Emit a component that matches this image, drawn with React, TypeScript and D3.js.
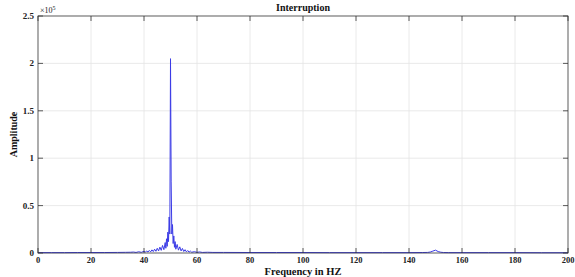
import React from 'react';
import * as d3 from 'd3';

// spectrum (amplitude in units of 1e5)
const freqs = [
  0, 5, 10, 15, 20, 25, 30, 33, 35, 36, 37, 38, 39, 40, 40.5, 41, 41.5, 42, 42.5, 43, 43.5,
  44, 44.5, 45, 45.5, 46, 46.5, 47, 47.5, 48, 48.25, 48.5, 48.75, 49, 49.25, 49.5, 49.75,
  50, 50.25, 50.5, 50.75, 51, 51.25, 51.5, 51.75, 52, 52.5, 53, 53.5, 54, 54.5, 55, 55.5,
  56, 56.5, 57, 57.5, 58, 59, 60, 61, 62, 64, 66, 70, 80, 90, 100, 110, 120, 130, 140,
  145, 147, 148, 149, 150, 151, 152, 153, 155, 160, 170, 180, 190, 200,
];
const amps = [
  0.004, 0.004, 0.004, 0.005, 0.005, 0.005, 0.006, 0.007, 0.008, 0.01, 0.006, 0.013, 0.007,
  0.018, 0.008, 0.022, 0.01, 0.027, 0.012, 0.033, 0.015, 0.04, 0.018, 0.05, 0.022, 0.062,
  0.028, 0.08, 0.035, 0.11, 0.05, 0.15, 0.07, 0.22, 0.12, 0.38, 0.2, 2.05, 0.75, 0.2, 0.3,
  0.1, 0.18, 0.06, 0.12, 0.04, 0.09, 0.03, 0.065, 0.022, 0.048, 0.016, 0.035, 0.012, 0.026,
  0.009, 0.02, 0.008, 0.014, 0.007, 0.011, 0.006, 0.008, 0.006, 0.006, 0.005, 0.005, 0.005,
  0.004, 0.004, 0.004, 0.004, 0.005, 0.006, 0.01, 0.02, 0.03, 0.015, 0.008, 0.005, 0.004,
  0.004, 0.004, 0.004, 0.003, 0.003,
];
const xTicks = [0, 20, 40, 60, 80, 100, 120, 140, 160, 180, 200];
const yTicks = [0, 0.5, 1, 1.5, 2, 2.5];
const yTickLabels = ['0', '0.5', '1', '1.5', '2', '2.5'];

const W = 575;
const H = 277;
const m = { left: 38, right: 7, top: 16, bottom: 24 };
const font = '"Liberation Serif", "Times New Roman", serif';

export default function App() {
  const x = d3.scaleLinear().domain([0, 200]).range([m.left, W - m.right]);
  const y = d3.scaleLinear().domain([0, 2.5]).range([H - m.bottom, m.top]);
  const pts: [number, number][] = freqs.map((f, i) => [f, amps[i]]);
  const line = d3.line<[number, number]>().x(d => x(d[0])).y(d => y(d[1]));
  const x0 = x(0), x1 = x(200), y0 = y(0), y1 = y(2.5);
  const tk = 5;

  return (
    <svg width={W} height={H} style={{ position: 'absolute', left: 0, top: 0, background: '#fff' }}>
      {/* grid */}
      {xTicks.slice(1, -1).map(t => (
        <line key={'gx' + t} x1={x(t)} x2={x(t)} y1={y0} y2={y1} stroke="#e4e4e4" strokeWidth={0.8} />
      ))}
      {yTicks.slice(1, -1).map(t => (
        <line key={'gy' + t} x1={x0} x2={x1} y1={y(t)} y2={y(t)} stroke="#e4e4e4" strokeWidth={0.8} />
      ))}
      <path d={line(pts) || ''} fill="none" stroke="#3b3be6" strokeWidth={1} />
      {/* box */}
      <rect x={x0} y={y1} width={x1 - x0} height={y0 - y1} fill="none" stroke="#333" strokeWidth={0.8} />
      {xTicks.map(t => (
        <g key={'xt' + t}>
          <line x1={x(t)} x2={x(t)} y1={y0} y2={y0 - tk} stroke="#333" strokeWidth={0.8} />
          <line x1={x(t)} x2={x(t)} y1={y1} y2={y1 + tk} stroke="#333" strokeWidth={0.8} />
          <text x={x(t)} y={y0 + 10} textAnchor="middle" fontFamily={font} fontWeight="bold" fontSize={8.5} fill="#222">{t}</text>
        </g>
      ))}
      {yTicks.map((t, i) => (
        <g key={'yt' + t}>
          <line x1={x0} x2={x0 + tk} y1={y(t)} y2={y(t)} stroke="#333" strokeWidth={0.8} />
          <line x1={x1} x2={x1 - tk} y1={y(t)} y2={y(t)} stroke="#333" strokeWidth={0.8} />
          <text x={x0 - 4} y={y(t) + 3} textAnchor="end" fontFamily={font} fontWeight="bold" fontSize={9} fill="#222">{yTickLabels[i]}</text>
        </g>
      ))}
      <text x={x0 + 2} y={y1 - 3} fontFamily={font} fontSize={8} fill="#222">
        ×10<tspan dy={-3} fontSize={6}>5</tspan>
      </text>
      <text x={(x0 + x1) / 2} y={11} textAnchor="middle" fontFamily={font} fontWeight="bold" fontSize={10} fill="#111">Interruption</text>
      <text x={(x0 + x1) / 2} y={275} textAnchor="middle" fontFamily={font} fontWeight="bold" fontSize={10.5} fill="#111">Frequency in HZ</text>
      <text transform={`translate(17,${(y0 + y1) / 2}) rotate(-90)`} textAnchor="middle" fontFamily={font} fontWeight="bold" fontSize={10} fill="#111">Amplitude</text>
    </svg>
  );
}
